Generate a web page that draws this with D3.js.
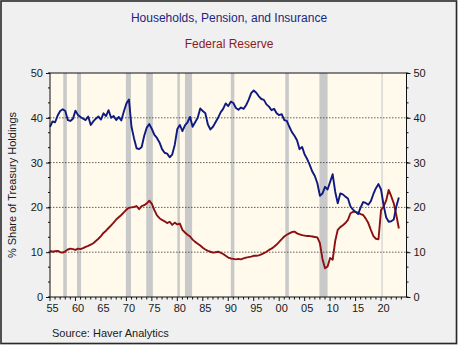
<!DOCTYPE html>
<html>
<head>
<meta charset="utf-8">
<script src="https://cdn.jsdelivr.net/npm/d3@7"></script>
<style>
  html, body { margin: 0; padding: 0; background: #f0f0f0; }
  svg { display: block; }
  text { font-family: "Liberation Sans", Arial, sans-serif; }
</style>
</head>
<body>
<svg id="chart" width="458" height="345"></svg>
<script>
// Semi-annual observations, first point 1955.0, step 0.5 year
const startYear = 1955;
const step = 0.5;

// Households, Pension, and Insurance: % share of Treasury holdings
const households = [
  38.0, 39.2, 39.0, 40.5, 41.5, 41.9, 41.5, 39.5, 39.3, 39.8,
  41.6, 40.6, 40.2, 39.8, 39.5, 40.3, 38.4, 39.2, 39.8, 40.3,
  39.6, 41.0, 40.4, 41.7, 40.0, 40.4, 39.5, 40.2, 39.4, 41.4,
  43.2, 44.1, 38.0, 35.4, 33.2, 33.0, 33.5, 36.0, 37.8, 38.6,
  37.5, 36.2, 35.5, 34.5, 33.0, 32.2, 32.0, 31.2, 31.8, 34.0,
  37.5, 38.4, 37.0, 38.3, 39.0, 40.2, 38.0, 39.0, 40.0, 42.1,
  41.5, 41.0, 38.5, 37.4, 38.0, 39.0, 40.0, 41.2, 42.0, 43.2,
  42.6, 43.6, 43.3, 42.2, 41.8, 42.3, 42.0, 42.8, 44.0, 45.5,
  46.1, 45.6, 44.8, 44.2, 44.0, 43.0, 42.5, 41.7, 42.0, 41.0,
  40.6, 40.8, 39.5, 39.3, 38.0, 36.8, 36.0, 35.0, 33.0, 33.5,
  31.8, 30.8, 29.5, 28.0, 27.0, 25.4, 22.6, 23.1, 24.6, 24.0,
  25.7, 27.4, 23.5, 20.9, 23.1, 22.9, 22.4, 22.0, 20.2, 19.5,
  19.0, 18.5, 20.0, 21.2, 21.0, 20.6, 21.4, 23.0, 24.3, 25.2,
  24.0, 20.5, 17.8, 16.8, 16.9, 17.3, 20.2, 22.2
];

// Federal Reserve: % share of Treasury holdings
const fedReserve = [
  10.3, 10.1, 10.2, 10.3, 10.0, 9.9, 10.2, 10.6, 10.8, 10.7,
  10.5, 10.8, 10.7, 10.9, 11.2, 11.4, 11.7, 12.0, 12.5, 13.0,
  13.6, 14.3, 14.8, 15.4, 16.0, 16.6, 17.3, 17.8, 18.3, 18.9,
  19.5, 19.9, 20.0, 20.1, 20.3, 19.6, 20.3, 20.5, 20.9, 21.5,
  20.8, 19.4, 18.2, 17.6, 17.2, 16.9, 16.5, 16.8, 16.1, 16.6,
  16.2, 16.4, 15.0, 14.4, 13.9, 13.5, 12.8, 12.3, 11.9, 11.5,
  11.0, 10.6, 10.3, 10.1, 9.9, 10.0, 10.1, 9.9, 9.6, 9.2,
  8.8, 8.6, 8.5, 8.4, 8.5, 8.4, 8.6, 8.8, 8.9, 9.0,
  9.2, 9.2, 9.3, 9.5, 9.8, 10.1, 10.5, 10.8, 11.2, 11.7,
  12.3, 12.9, 13.5, 13.9, 14.2, 14.5, 14.6, 14.2, 14.0, 13.8,
  13.7, 13.6, 13.6, 13.5, 13.4, 13.3, 12.0, 8.5, 6.4, 6.8,
  8.7, 8.3, 12.5, 15.0, 15.6, 16.0, 16.5, 17.2, 18.7, 19.0,
  19.0, 18.8, 18.5, 18.3, 17.5, 16.5, 15.0, 13.6, 13.0, 12.9,
  19.4, 20.2, 21.5, 23.9, 22.5, 20.9, 18.3, 15.3
];

// NBER recession periods (start, end) in decimal years
const recessions = [
  [1957.6, 1958.3], [1960.3, 1961.1], [1969.9, 1970.9], [1973.9, 1975.2],
  [1980.0, 1980.5], [1981.5, 1982.9], [1990.5, 1991.2], [2001.2, 2001.9],
  [2007.9, 2009.5], [2020.1, 2020.3]
];

const yTicks = [0, 10, 20, 30, 40, 50];
const xTickYears = [1955, 1960, 1965, 1970, 1975, 1980, 1985, 1990, 1995, 2000, 2005, 2010, 2015, 2020];

const titles = [
  { text: "Households, Pension, and Insurance", color: "#1b2583" },
  { text: "Federal Reserve", color: "#8e1b1b" }
];

const W = 458, H = 345;
const plot = { left: 50, right: 406.5, top: 73, bottom: 297 };

const svg = d3.select("#chart");

// Outer panel with frame
svg.append("rect")
  .attr("x", 1).attr("y", 1).attr("width", W - 2.5).attr("height", H - 2.5)
  .attr("fill", "#f0f0f0").attr("stroke", "#2a2a2a").attr("stroke-width", 1.6);

const x = d3.scaleLinear().domain([1955, 2025]).range([plot.left, plot.right]);
const y = d3.scaleLinear().domain([0, 50]).range([plot.bottom, plot.top]);

// Plot background
svg.append("rect")
  .attr("x", plot.left).attr("y", plot.top)
  .attr("width", plot.right - plot.left).attr("height", plot.bottom - plot.top)
  .attr("fill", "#fffaec");

// Recession shading
svg.append("g").selectAll("rect").data(recessions).join("rect")
  .attr("x", d => x(d[0]))
  .attr("y", plot.top)
  .attr("width", d => Math.max(1, x(d[1]) - x(d[0])))
  .attr("height", plot.bottom - plot.top)
  .attr("fill", "#c9c9c9");

// Dotted horizontal gridlines
svg.append("g").selectAll("line").data(yTicks.filter(v => v > 0 && v < 50)).join("line")
  .attr("x1", plot.left).attr("x2", plot.right)
  .attr("y1", d => y(d)).attr("y2", d => y(d))
  .attr("stroke", "#3a3a3a").attr("stroke-width", 0.8)
  .attr("stroke-dasharray", "1.5,1.5");

// Series lines
const toPoints = arr => arr.map((v, i) => [startYear + i * step, v]);
const line = d3.line().x(d => x(d[0])).y(d => y(d[1]));

svg.append("path").datum(toPoints(fedReserve))
  .attr("d", line).attr("fill", "none")
  .attr("stroke", "#8b1010").attr("stroke-width", 1.9).attr("stroke-linejoin", "round");

svg.append("path").datum(toPoints(households))
  .attr("d", line).attr("fill", "none")
  .attr("stroke", "#0f1a80").attr("stroke-width", 1.9).attr("stroke-linejoin", "round");

// Frame of plotting area
svg.append("rect")
  .attr("x", plot.left).attr("y", plot.top)
  .attr("width", plot.right - plot.left).attr("height", plot.bottom - plot.top)
  .attr("fill", "none").attr("stroke", "#111").attr("stroke-width", 1);

// Left axis
const minorY = d3.range(0, 50.01, 10 / 3);
const leftAxis = d3.axisLeft(y).tickValues(yTicks).tickSize(4).tickPadding(3);
const gL = svg.append("g").attr("transform", `translate(${plot.left},0)`).call(leftAxis);
gL.append("g").selectAll("line").data(minorY).join("line")
  .attr("x1", 0).attr("x2", -2).attr("y1", d => y(d)).attr("y2", d => y(d))
  .attr("stroke", "#111");

// Right axis
const rightAxis = d3.axisRight(y).tickValues(yTicks).tickSize(4).tickPadding(3);
const gR = svg.append("g").attr("transform", `translate(${plot.right},0)`).call(rightAxis);
gR.append("g").selectAll("line").data(minorY).join("line")
  .attr("x1", 0).attr("x2", 2).attr("y1", d => y(d)).attr("y2", d => y(d))
  .attr("stroke", "#111");

// Bottom axis: yearly minor ticks, labels centred on each 5th year
const gB = svg.append("g").attr("transform", `translate(0,${plot.bottom})`);
gB.selectAll("line.minor").data(d3.range(1955, 2025)).join("line")
  .attr("class", "minor")
  .attr("x1", d => x(d)).attr("x2", d => x(d))
  .attr("y1", 0).attr("y2", d => (d % 5 === 0 ? 4 : 2.5))
  .attr("stroke", "#111");
gB.selectAll("text").data(xTickYears).join("text")
  .attr("x", d => x(d + 0.5)).attr("y", 15)
  .attr("text-anchor", "middle")
  .text(d => String(d % 100).padStart(2, "0"));

[gL, gR].forEach(g => {
  g.select(".domain").remove();
  g.selectAll(".tick line").attr("stroke", "#111");
});
svg.selectAll(".tick text, g text").attr("font-size", 11).attr("fill", "#1a1a1a")
  .attr("font-family", "'Liberation Sans', Arial, sans-serif");

// Titles
svg.append("g").selectAll("text").data(titles).join("text")
  .attr("x", 229).attr("y", (d, i) => 22 + i * 26)
  .attr("text-anchor", "middle")
  .attr("font-size", 12)
  .attr("fill", d => d.color)
  .text(d => d.text);

// Y axis title
svg.append("text")
  .attr("transform", `translate(16,${(plot.top + plot.bottom) / 2}) rotate(-90)`)
  .attr("text-anchor", "middle")
  .attr("font-size", 11).attr("fill", "#1a1a1a")
  .text("% Share of Treasury Holdings");

// Source note
svg.append("text")
  .attr("x", 52).attr("y", 337)
  .attr("font-size", 11).attr("fill", "#1a1a1a")
  .text("Source:  Haver Analytics");
</script>
</body>
</html>
